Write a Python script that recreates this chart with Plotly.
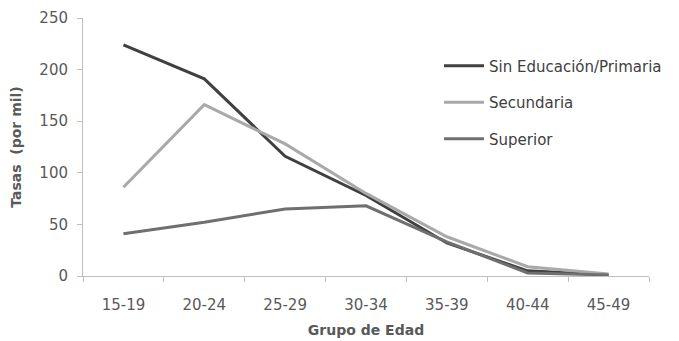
import plotly.graph_objects as go

categories = ["15-19", "20-24", "25-29", "30-34", "35-39", "40-44", "45-49"]
sin_educacion = [224, 191, 116, 78, 32, 5, 1]
secundaria = [86, 166, 128, 80, 38, 9, 2]
superior = [41, 52, 65, 68, 33, 3, 1]
y_ticks = [0, 50, 100, 150, 200, 250]

series = [
    ("Sin Educación/Primaria", sin_educacion, "#404040"),
    ("Secundaria", secundaria, "#a9a9a9"),
    ("Superior", superior, "#6f6f6f"),
]

fig = go.Figure()
for i, (name, vals, col) in enumerate(series):
    fig.add_trace(go.Scatter(
        x=categories, y=vals, name=name, mode="lines",
        line=dict(color=col, width=3), legendgroup=f"g{i}",
    ))

axis_font = dict(family="DejaVu Sans", size=15, color="#595959")
title_font = dict(family="DejaVu Sans", size=14, color="#595959")
fig.update_layout(
    width=679, height=341,
    margin=dict(l=83, r=27, t=18, b=65),
    paper_bgcolor="white", plot_bgcolor="white",
    font=dict(family="DejaVu Sans", size=15, color="#404040"),
    showlegend=True,
    legend=dict(x=0.629, y=0.878, xanchor="left", yanchor="top",
                font=dict(family="DejaVu Sans", size=15, color="#404040"),
                tracegroupgap=14, bgcolor="rgba(0,0,0,0)", itemwidth=40),
    xaxis=dict(
        type="category", range=[-0.5, 6.5], tickson="boundaries", ticks="outside", ticklen=5,
        tickcolor="#bfbfbf", showline=True, linecolor="#bfbfbf", linewidth=1,
        showgrid=False, tickfont=axis_font, ticklabelstandoff=15, automargin=False,
        title=dict(text="<b>Grupo de Edad</b>", font=title_font, standoff=12),
    ),
    yaxis=dict(
        range=[0, 250], tickvals=y_ticks, ticks="outside", ticklen=5,
        tickcolor="#bfbfbf", showline=True, linecolor="#bfbfbf", linewidth=1,
        showgrid=False, zeroline=False, tickfont=axis_font, ticklabelstandoff=6,
        automargin=False,
        title=dict(text="<b>Tasas  (por mil)</b>", font=title_font, standoff=14),
    ),
)

fig.write_html("out.html")
